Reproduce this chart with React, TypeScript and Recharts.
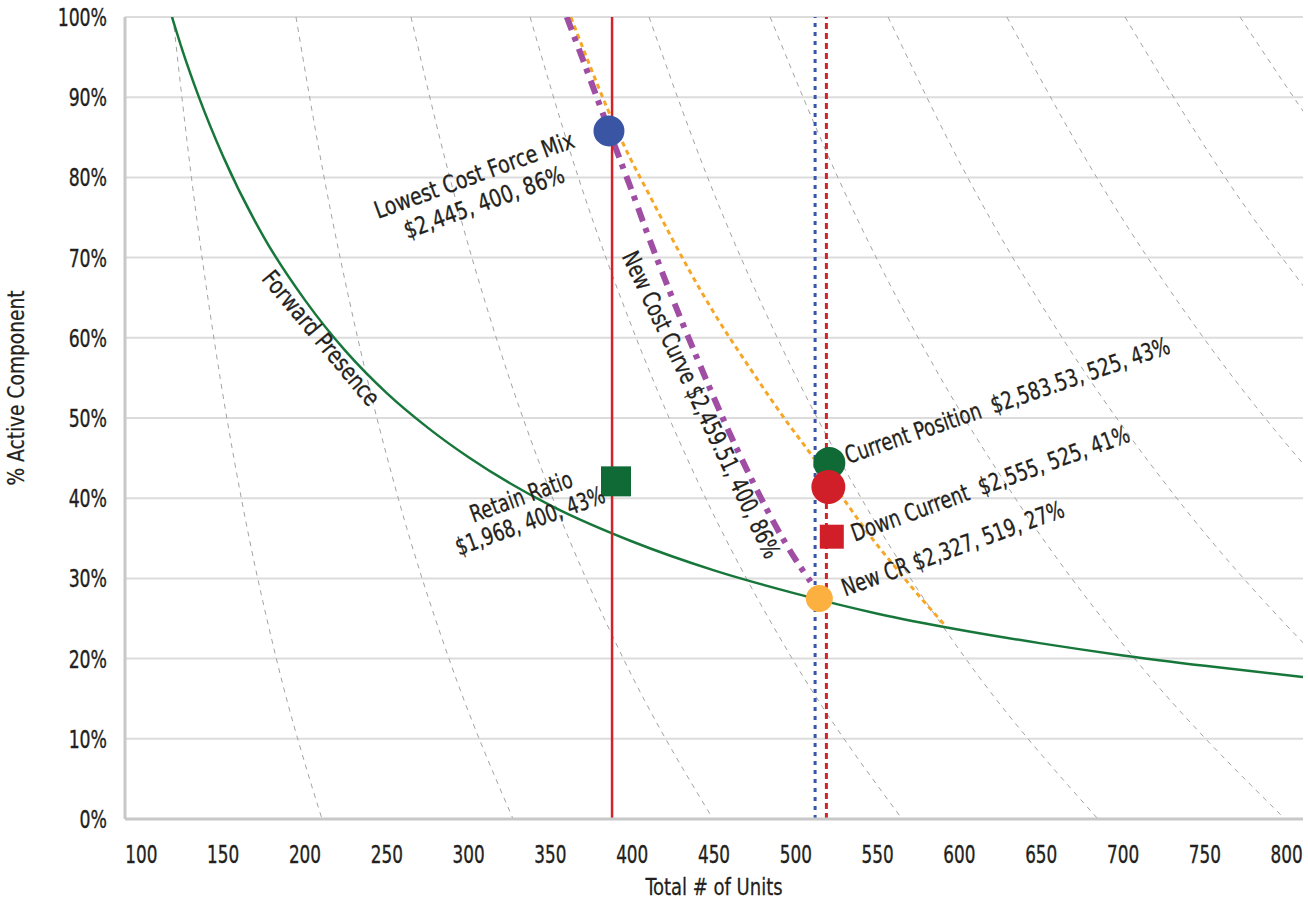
import { CartesianGrid, ComposedChart, Line, ReferenceDot, Scatter, XAxis, YAxis } from 'recharts'

const FONT = "'Liberation Sans Narrow', 'Arial Narrow', 'DejaVu Sans Condensed', 'Roboto Condensed', sans-serif"
const INK = '#231f20'

const unitTicks = [100, 150, 200, 250, 300, 350, 400, 450, 500, 550, 600, 650, 700, 750, 800]
const pctTicks = [0, 10, 20, 30, 40, 50, 60, 70, 80, 90, 100]

// green solid curve
const forwardPresence = [
  { x: 118.7, y: 100 }, { x: 125, y: 95.9 }, { x: 135, y: 90.1 }, { x: 150, y: 82.6 },
  { x: 175, y: 72.5 }, { x: 200, y: 64.7 }, { x: 225, y: 58.3 }, { x: 250, y: 53.1 },
  { x: 275, y: 48.8 }, { x: 300, y: 45.1 }, { x: 350, y: 39.1 }, { x: 400, y: 34.6 },
  { x: 450, y: 31.0 }, { x: 500, y: 28.1 }, { x: 550, y: 25.6 }, { x: 600, y: 23.6 },
  { x: 650, y: 21.9 }, { x: 700, y: 20.4 }, { x: 750, y: 19.1 }, { x: 810, y: 17.7 },
]

// orange dotted curve
const oldCostCurve = [
  { x: 362.5, y: 100 }, { x: 374, y: 94 }, { x: 385, y: 88.5 }, { x: 399, y: 82.3 },
  { x: 409, y: 78.4 }, { x: 423, y: 72.9 }, { x: 436, y: 68 }, { x: 450, y: 63.1 },
  { x: 472, y: 56.2 }, { x: 495, y: 49.4 }, { x: 503, y: 47.2 }, { x: 520, y: 42.5 },
  { x: 533, y: 38.8 }, { x: 545, y: 35.4 }, { x: 560, y: 31.6 }, { x: 575, y: 27.9 },
  { x: 591, y: 24.2 },
]

// purple dash-dot curve
const newCostCurve = [
  { x: 360, y: 100 }, { x: 370, y: 94.6 }, { x: 380, y: 89.1 }, { x: 390, y: 83.6 },
  { x: 400, y: 78.2 }, { x: 410, y: 72.6 }, { x: 420, y: 67.3 }, { x: 430, y: 62.2 },
  { x: 440, y: 57.3 }, { x: 450, y: 52.5 }, { x: 460, y: 47.9 }, { x: 470, y: 43.6 },
  { x: 480, y: 39.5 }, { x: 490, y: 35.7 }, { x: 500, y: 32.3 }, { x: 509, y: 29.6 },
]

// grey dashed iso-cost lines, read at 100/80/60/40/20/0 %
const isoPct = [100, 80, 60, 40, 20, 0]
const iso1 = [119.3, 130.6, 144.3, 161.1, 182.5, 210.4]
const iso2 = [194.5, 211.7, 232.2, 257.0, 288.0, 327.2]
const iso3 = [264.8, 288.5, 316.9, 351.4, 394.6, 449.4]
const iso4 = [337.6, 367.1, 402.4, 444.9, 497.8, 565]
const iso5 = [410.3, 446.1, 488.7, 540.0, 603.8, 684.7]
const iso6 = [484.3, 525.7, 574.8, 634.1, 707.1, 799]
const iso7 = [556.4, 605, 662.8, 732.8, 819.4, 929.2]
const iso8 = [629, 683.9, 749.2, 828.4, 926.3, 1050.4]
const iso9 = [701.2, 762.4, 835.2, 923.5, 1032, 1171]
const iso10 = [771.5, 838.8, 919, 1016, 1137, 1288]
const isoLines = [iso1, iso2, iso3, iso4, iso5, iso6, iso7, iso8, iso9, iso10]

// vertical markers
const retainUnits = 387.7
const newCrUnits = 511.8
const currentUnits = 518.7

// points
const lowestCost = [{ x: 385.8, y: 85.8 }]
const retainRatio = [{ x: 390.1, y: 42.1 }]
const currentPosition = [{ x: 520.5, y: 44.4 }]
const downCurrent = [{ x: 519.9, y: 41.4 }]
const downCurrentSq = [{ x: 522, y: 35.2 }]
const newCr = [{ x: 514.4, y: 27.5 }]

const vertical = (x: number) => [{ x, y: 0 }, { x, y: 100 }]

function label(lines: string[], dx: number, dy: number, angle: number, anchor: 'start' | 'middle' | 'end', lh = 28, sx = 0.83) {
  return (cx: number, cy: number) => (
    <g transform={`translate(${cx + dx},${cy + dy}) rotate(${angle}) scale(${sx},1)`}>
      <text textAnchor={anchor} fontSize={24} fill={INK} stroke={INK} strokeWidth={0.3} fontFamily={FONT} style={{ whiteSpace: 'pre' }}>
        {lines.map((t, i) => (
          <tspan key={i} x={0} y={i * lh}>{t}</tspan>
        ))}
      </text>
    </g>
  )
}

type Lbl = ((cx: number, cy: number) => JSX.Element) | null

const dot = (r: number, color: string, lbl: Lbl) => (p: any) => (
  <g>
    <circle cx={p.cx} cy={p.cy} r={r} fill={color} />
    {lbl && lbl(p.cx, p.cy)}
  </g>
)

const square = (s: number, color: string, lbl: Lbl) => (p: any) => (
  <g>
    <rect x={p.cx - s / 2} y={p.cy - s / 2} width={s} height={s} fill={color} />
    {lbl && lbl(p.cx, p.cy)}
  </g>
)

const XTick = (p: any) => (
  <g transform={`translate(${p.x},${p.y}) scale(0.78,1)`}>
    <text textAnchor="middle" y={17.5} fontSize={24} fill={INK} stroke={INK} strokeWidth={0.35} fontFamily={FONT}>{p.payload.value}</text>
  </g>
)

const YTick = (p: any) => (
  <g transform={`translate(${p.x},${p.y}) scale(0.8,1)`}>
    <text textAnchor="end" y={9} fontSize={24} fill={INK} stroke={INK} strokeWidth={0.35} fontFamily={FONT}>{`${p.payload.value}%`}</text>
  </g>
)

export default function App() {
  return (
    <div style={{ position: 'absolute', left: 0, top: 0, background: '#fff' }}>
      <ComposedChart width={1308} height={902} margin={{ top: 17, right: 5, bottom: 0, left: 0 }}>
        <CartesianGrid vertical={false} stroke="#dcdcdc" strokeWidth={2} />
        <XAxis
          type="number"
          dataKey="x"
          domain={[90, 810]}
          allowDataOverflow
          ticks={unitTicks}
          height={83}
          tickSize={0}
          tickMargin={26}
          axisLine={{ stroke: '#c8c8c8', strokeWidth: 3 }}
          tick={XTick}
          label={(props: any) => {
            const vb = props.viewBox
            const cx = vb.x + vb.width / 2
            return (
              <g transform={`translate(${cx},${vb.y + 76}) scale(0.87,1)`}>
                <text textAnchor="middle" fontSize={23} fill={INK} stroke={INK} strokeWidth={0.25} fontFamily={FONT}>Total # of Units</text>
              </g>
            )
          }}
        />
        <YAxis
          type="number"
          dataKey="y"
          domain={[0, 100]}
          allowDataOverflow
          ticks={pctTicks}
          width={125}
          tickSize={0}
          tickMargin={18}
          axisLine={{ stroke: '#c8c8c8', strokeWidth: 3 }}
          tick={YTick}
          label={(props: any) => {
            const vb = props.viewBox
            const cy = vb.y + vb.height / 2 - 30
            return (
              <g transform={`translate(16,${cy}) rotate(-90) scale(0.9,1)`}>
                <text textAnchor="middle" dominantBaseline="central" fontSize={23} fill={INK} stroke={INK} strokeWidth={0.25} fontFamily={FONT}>% Active Component</text>
              </g>
            )
          }}
        />
        <YAxis
          yAxisId="frame"
          orientation="right"
          type="number"
          domain={[0, 100]}
          width={0}
          tick={false}
          tickLine={false}
          axisLine={{ stroke: '#c8c8c8', strokeWidth: 2 }}
        />

        {isoLines.map((xs, i) => (
          <Line
            key={`iso${i}`}
            data={xs.map((x, j) => ({ x, y: isoPct[j] }))}
            dataKey="y"
            type="monotone"
            stroke="#a3a3a3"
            strokeWidth={1}
            strokeDasharray="5 5"
            dot={false}
            activeDot={false}
            isAnimationActive={false}
          />
        ))}

        <Line data={forwardPresence} dataKey="y" type="monotone" stroke="#17773b" strokeWidth={2.5} dot={false} activeDot={false} isAnimationActive={false} />
        <Line data={oldCostCurve} dataKey="y" type="monotone" stroke="#f7a727" strokeWidth={3} strokeDasharray="5 4" dot={false} activeDot={false} isAnimationActive={false} />
        <Line data={newCostCurve} dataKey="y" type="monotone" stroke="#9f4ea4" strokeWidth={6} strokeDasharray="14 7 5 8" dot={false} activeDot={false} isAnimationActive={false} />

        <Line data={vertical(retainUnits)} dataKey="y" stroke="#d2232a" strokeWidth={2.5} dot={false} activeDot={false} isAnimationActive={false} />
        <Line data={vertical(newCrUnits)} dataKey="y" stroke="#3a55a8" strokeWidth={3} strokeDasharray="4 5" dot={false} activeDot={false} isAnimationActive={false} />
        <Line data={vertical(currentUnits)} dataKey="y" stroke="#d2232a" strokeWidth={3} strokeDasharray="6 4" dot={false} activeDot={false} isAnimationActive={false} />

        <Scatter data={lowestCost} isAnimationActive={false}
          shape={dot(15.5, '#3b55a5', label(['Lowest Cost Force Mix', '$2,445, 400, 86%'], -132, 52, -20, 'middle', 29, 0.88))} />
        <Scatter data={retainRatio} isAnimationActive={false}
          shape={square(30, '#0f6a36', label(['Retain Ratio', '$1,968, 400, 43%'], -92, 23, -20, 'middle', 26, 0.82))} />
        <Scatter data={currentPosition} isAnimationActive={false}
          shape={dot(16, '#0f6a36', label(['Current Position  $2,583.53, 525, 43%'], 19, 1, -19, 'start'))} />
        <Scatter data={downCurrent} isAnimationActive={false} shape={dot(17, '#d01f28', null)} />
        <Scatter data={downCurrentSq} isAnimationActive={false}
          shape={square(24, '#d01f28', label(['Down Current  $2,555, 525, 41%'], 23, 5, -20, 'start'))} />
        <Scatter data={newCr} isAnimationActive={false}
          shape={dot(13.5, '#fbb040', label(['New CR $2,327, 519, 27%'], 26, -2, -20, 'start'))} />

        <ReferenceDot x={206} y={59.3} r={0} ifOverflow="visible"
          shape={(p: any) => label(['Forward Presence'], 0, 0, 50, 'middle', 28, 0.88)(p.cx, p.cy)} />
        <ReferenceDot x={437.6} y={51.2} r={0} ifOverflow="visible"
          shape={(p: any) => label(['New Cost Curve $2,459.51, 400, 86%'], 0, 0, 64.6, 'middle')(p.cx, p.cy)} />
      </ComposedChart>
    </div>
  )
}
